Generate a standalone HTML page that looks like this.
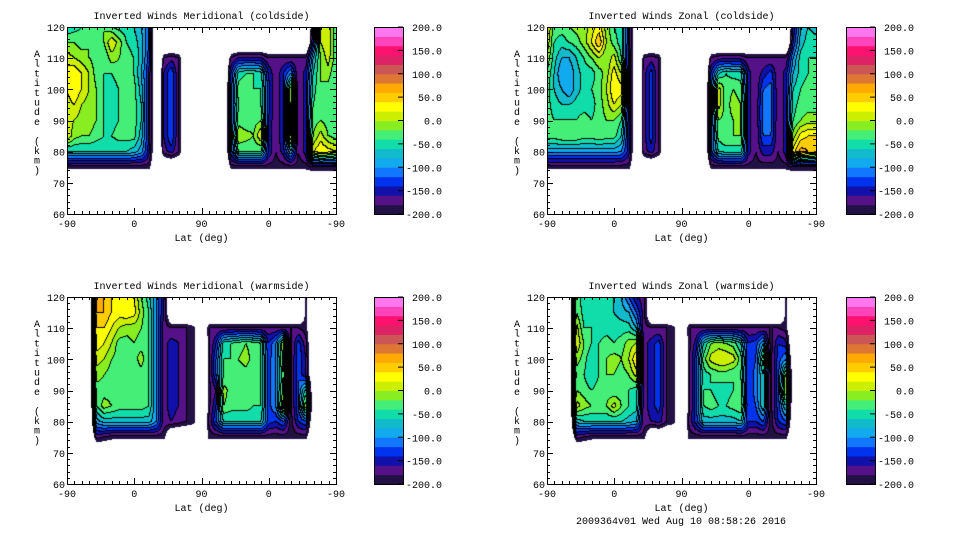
<!DOCTYPE html>
<html><head><meta charset="utf-8"><style>
html,body{margin:0;padding:0;background:#fff;width:960px;height:540px;overflow:hidden;position:relative}
canvas{position:absolute}
svg{position:absolute;left:0;top:0}
text{font-family:"Liberation Mono",monospace;font-size:10px;fill:#000}
</style></head><body>
<svg id="ov" width="960" height="540"></svg>
<script>
const _ = null;
const xTickLabels = ['-90','0','90','0','-90'];
const xTickTrack = [0,90,180,270,360];
const yTicks = [60,70,80,90,100,110,120];
const cbLabels = ['200.0','150.0','100.0','50.0','0.0','-50.0','-100.0','-150.0','-200.0'];
const cbValues = [200,150,100,50,0,-50,-100,-150,-200];
const levelColors = ['#221144','#551188','#1111aa','#0033ee','#1177ff','#11aaee','#11bbcc','#11ddaa','#44ee77','#88ee22','#ccee00','#ffff00','#ffcc00','#ffaa00','#dd7733','#cc5555','#dd2266','#ff1170','#ff44bb','#ff77ee'];
const rowAlts = [120,115,110,105,100,95,90,85,80,75];
const titles = ['Inverted Winds Meridional (coldside)','Inverted Winds Zonal (coldside)','Inverted Winds Meridional (warmside)','Inverted Winds Zonal (warmside)'];
// values in units of 10 m/s; columns = track 0..360 step 10
const merCold = [
[-6,-5,-4,-4,-3,-2,-4,-5,-5,-6,-8,-12,_,_,_,_,_,_,_,_,_,_,_,_,_,_,_,_,_,_,_,_,_,-16,1,2,-3],
[-2,-2,-3,-2,-3,-2,2,-1,-4,-5,-7,-12,_,_,_,_,_,_,_,_,_,_,_,_,_,_,_,_,_,_,_,_,_,-14,0,2,-4],
[1,0,-1,-2,-3,-4,-1,-2,-3,-4,-7,-13,_,-18,-17,-18,_,_,_,_,_,_,-18,-16,-16,-16,-16,-18,-18,-18,-18,-18,-18,-8,-2,1,-3],
[3,4,2,0,-3,-4,-4,-3,-3,-4,-8,-14,_,-16,-12,-18,_,_,_,_,_,_,-14,-5,-4,-4,-5,-14,-18,-14,-10,-18,-15,-6,-2,-1,-4],
[2,4,2,0,-2,-4,-5,-4,-3,-3,-7,-14,_,-16,-12,-18,_,_,_,_,_,_,-13,-3,-2,-4,-4,-13,-18,-14,0,-18,-15,-5,-2,-3,-4],
[1,2,0,-1,-2,-4,-5,-4,-3,-3,-6,-14,_,-16,-12,-18,_,_,_,_,_,_,-13,-4,-4,-4,-4,-13,-18,-14,1,-18,-15,-4,-2,-3,-4],
[1,0,-1,-1,-2,-4,-5,-4,-3,-3,-6,-14,_,-16,-12,-18,_,_,_,_,_,_,-13,-3,-4,-3,-2,-14,-18,-14,1,-18,-15,-3,-2,-3,-4],
[2,-1,-2,-2,-3,-4,-4,-3,-3,-3,-7,-14,_,-16,-12,-18,_,_,_,_,_,_,-13,0,-1,-2,2,-14,-18,-14,1,-18,-15,-2,1,-2,-3],
[-6,-6,-6,-6,-6,-6,-6,-6,-6,-7,-9,-15,_,-17,-15,-18,_,_,_,_,_,_,-13,-4,-4,-4,-4,-14,-18,-15,-8,-18,-15,2,4,3,2],
[-19,-19,-19,-19,-19,-19,-19,-19,-19,-19,-19,-19,_,_,_,_,_,_,_,_,_,_,-19,-19,-19,-19,-19,-19,-19,-19,-19,-19,-19,-18,-18,-18,-18]];
const zonCold = [
[3,-3,-3,-2,-1,-1,1,3,-1,-4,-5,-14,_,_,_,_,_,_,_,_,_,_,_,_,_,_,_,_,_,_,_,_,_,-16,-8,-6,-7],
[2,-4,-5,-4,-3,-1,2,6,0,-3,-5,-14,_,_,_,_,_,_,_,_,_,_,_,_,_,_,_,_,_,_,_,_,_,-14,-7,-5,-5],
[0,-5,-8,-8,-6,-4,-2,0,-2,1,-4,-15,_,-18,-17,-18,_,_,_,_,_,_,-18,-17,-17,-17,-17,-18,-18,-18,-18,-18,-18,-10,-5,-4,-4],
[-2,-6,-10,-10,-7,-5,-5,-3,-1,3,0,-15,_,-17,-13,-18,_,_,_,_,_,_,-14,-6,-4,-5,-5,-15,-18,-15,-13,-18,-15,-8,-5,-4,-4],
[-3,-6,-8,-10,-7,-5,-4,-3,0,4,3,-15,_,-17,-13,-18,_,_,_,_,_,_,-13,1,-3,-2,-3,-15,-18,-12,-11,-18,-15,-6,-4,-3,-4],
[-3,-5,-6,-6,-5,-5,-5,-3,-1,2,0,-15,_,-17,-13,-18,_,_,_,_,_,_,-13,1,-3,-1,-2,-15,-18,-11,-11,-18,-15,-5,-3,-3,-3],
[-3,-4,-4,-4,-4,-3,-4,-3,-2,-2,-4,-15,_,-17,-13,-18,_,_,_,_,_,_,-13,-2,-3,-2,-2,-15,-18,-11,-11,-18,-15,-4,-2,-1,-1],
[-3,-3,-2,-2,-2,-3,-3,-2,-3,-3,-6,-15,_,-17,-13,-18,_,_,_,_,_,_,-13,-3,-2,-2,-2,-15,-18,-12,-12,-18,-15,-1,3,4,4],
[-9,-9,-9,-9,-9,-9,-9,-9,-9,-9,-10,-15,_,-17,-15,-18,_,_,_,_,_,_,-13,-6,-5,-5,-5,-15,-18,-15,-15,-18,-15,3,7,6,5],
[-19,-19,-19,-19,-19,-19,-19,-19,-19,-19,-19,-19,_,_,_,_,_,_,_,_,_,_,-19,-19,-19,-19,-19,-19,-19,-19,-19,-19,-19,-18,-18,-18,-18]];
const merWarm = [
[_,_,_,_,7,6,4,3,3,2,-2,-5,-10,-16,_,_,_,_,_,_,_,_,_,_,_,_,_,_,_,_,_,_,-19,_,_,_,_],
[_,_,_,_,6,6,4,3,4,3,-1,-4,-10,-16,_,_,_,_,_,_,_,_,_,_,_,_,_,_,_,_,_,_,-19,_,_,_,_],
[_,_,_,_,4,4,2,0,-1,-1,-2,-4,-10,-17,-18,-18,-18,-19,_,-18,-18,-18,-18,-18,-18,-18,-18,-18,-18,-18,-18,-18,-19,_,_,_,_],
[_,_,_,_,3,2,0,-3,-3,-2,-3,-4,-10,-17,-15,-16,-18,-19,_,-19,-14,-5,-4,-3,-2,-3,-4,-14,-10,0,-19,-13,-17,_,_,_,_],
[_,_,_,_,1,0,-2,-3,-4,-3,-1,-4,-10,-17,-15,-16,-18,-19,_,-19,-12,-4,-4,-2,-1,-3,-4,-13,-10,-1,-19,-12,-16,_,_,_,_],
[_,_,_,_,-1,-2,-3,-4,-4,-3,-3,-4,-10,-17,-15,-16,-18,-19,_,-19,-12,-4,-4,-3,-3,-4,-4,-13,-10,-2,-19,-12,-16,_,_,_,_],
[_,_,_,_,-3,-3,-3,-4,-4,-3,-3,-4,-10,-17,-15,-16,-18,-19,_,-19,-16,-1,-3,-3,-4,-4,-4,-13,-10,-1,-19,-12,-5,_,_,_,_],
[_,_,_,_,-4,-1,-2,-3,-3,-3,-3,-4,-10,-17,-15,-16,-18,-19,_,-19,-14,-2,-3,-3,-3,-4,-4,-13,-10,1,-19,-12,0,_,_,_,_],
[_,_,_,_,-9,-7,-7,-7,-7,-7,-7,-7,-10,-17,-16,-17,-18,-19,_,-18,-12,-6,-6,-6,-6,-6,-6,-13,-14,-12,-19,-14,-12,_,_,_,_],
[_,_,_,_,-17,-18,-19,-19,-19,-19,-19,-19,-19,-19,_,_,_,_,_,-19,-19,-19,-19,-19,-19,-19,-19,-19,-19,-19,-19,-19,-19,_,_,_,_]];
const zonWarm = [
[_,_,_,_,-3,-5,-4,-5,-5,-6,-8,-12,-16,-17,_,_,_,_,_,_,_,_,_,_,_,_,_,_,_,_,_,_,-19,_,_,_,_],
[_,_,_,_,-2,-5,-4,-6,-6,-6,-7,-8,-12,-17,_,_,_,_,_,_,_,_,_,_,_,_,_,_,_,_,_,_,-19,_,_,_,_],
[_,_,_,_,1,-4,-4,-5,-5,-5,-5,-5,-8,-17,-18,-18,-18,-19,_,-18,-18,-18,-18,-18,-18,-18,-18,-18,-18,-18,-18,-18,-19,_,_,_,_],
[_,_,_,_,2,-2,-4,-4,-3,-4,-3,-1,0,-17,-15,-13,-18,-19,_,-19,-15,-6,-2,-1,-2,-3,-6,-14,-13,-8,-19,-14,-15,_,_,_,_],
[_,_,_,_,-1,-3,-6,-4,-2,-1,-2,0,4,-17,-15,-13,-18,-19,_,-19,-13,-3,1,2,2,1,-3,-14,-12,-2,-19,-13,-10,_,_,_,_],
[_,_,_,_,-3,-4,-6,-4,-2,-2,-3,-2,1,-17,-15,-13,-18,-19,_,-19,-13,-5,-4,-3,-3,-4,-4,-14,-11,-6,-19,-13,-1,_,_,_,_],
[_,_,_,_,-2,-3,-4,-3,-3,-4,-3,-4,-5,-17,-15,-13,-18,-19,_,-19,-13,-4,-4,-5,-5,-4,-3,-14,-11,-6,-19,-13,1,_,_,_,_],
[_,_,_,_,1,-1,-2,-2,-2,1,-2,-4,-5,-17,-15,-13,-18,-19,_,-19,-13,-4,-3,-4,-4,-3,-2,-14,-12,-6,-19,-13,-6,_,_,_,_],
[_,_,_,_,-7,-6,-6,-6,-6,-6,-6,-7,-8,-17,-16,-15,-18,-19,_,-18,-13,-7,-7,-7,-7,-7,-6,-14,-14,-12,-19,-14,-12,_,_,_,_],
[_,_,_,_,-17,-18,-19,-19,-19,-19,-19,-19,-19,-19,_,_,_,_,_,-19,-19,-19,-19,-19,-19,-19,-19,-19,-19,-19,-19,-19,-19,_,_,_,_]];
const panelGrids = [merCold, zonCold, merWarm, zonWarm];

const NS='http://www.w3.org/2000/svg';
const ov=document.getElementById('ov');
const panels=[{x:67,y:27,cb:374},{x:547,y:27,cb:846},{x:67,y:297,cb:374},{x:547,y:297,cb:846}];
const PW=269, PH=187, CBW=29;
const OUTSIDE=-26;
function xs(p,t){return p.x+t/360*PW;}
function ys(p,a){return p.y+PH-(a-60)/60*PH;}
function add(tag,attrs,parent){const e=document.createElementNS(NS,tag);for(const k in attrs)e.setAttribute(k,attrs[k]);(parent||ov).appendChild(e);return e;}
function levelOf(v){let l=Math.floor((v*10+200)/20);return Math.max(0,Math.min(19,l));}
function hex(c){return [parseInt(c.substr(1,2),16),parseInt(c.substr(3,2),16),parseInt(c.substr(5,2),16)];}
const rgb=levelColors.map(hex);
function node(g,r,c){ if(r<0||r>9) return OUTSIDE; c=Math.max(0,Math.min(36,c)); const v=g[r][c]; return v==null?OUTSIDE:v; }
function sample(g,t,alt){
  const ci=t/10, ri=(120-alt)/5;
  const c0=Math.floor(ci), r0=Math.floor(ri);
  const fx=ci-c0, fy=ri-r0;
  return node(g,r0,c0)*(1-fx)*(1-fy)+node(g,r0,c0+1)*fx*(1-fy)+node(g,r0+1,c0)*(1-fx)*fy+node(g,r0+1,c0+1)*fx*fy;
}
panels.forEach((p,pi)=>{
  const g=panelGrids[pi];
  const cv=document.createElement('canvas');
  cv.width=PW;cv.height=PH;cv.style.left=p.x+'px';cv.style.top=p.y+'px';
  
  
  document.body.insertBefore(cv,ov);
  const ctx=cv.getContext('2d');const img=ctx.createImageData(PW,PH);
  const lv=new Int8Array(PW*PH).fill(-1);
  for(let y=0;y<PH;y++)for(let x=0;x<PW;x++){
    const t=(x+0.5)/PW*360, a=120-(y+0.5)/PH*60;
    const v=sample(g,t,a); if(v>=-20) lv[y*PW+x]=levelOf(v);
  }
  for(let y=0;y<PH;y++)for(let x=0;x<PW;x++){
    const i=y*PW+x,l=lv[i];let c=[255,255,255];
    if(l>=0){c=rgb[l];
      const r=x+1<PW?lv[i+1]:-1, d=y+1<PH?lv[i+PW]:-1;
      if((r>=0&&r!==l)||(d>=0&&d!==l)) c=[0,0,0];}
    img.data[i*4]=c[0];img.data[i*4+1]=c[1];img.data[i*4+2]=c[2];img.data[i*4+3]=255;
  }
  ctx.putImageData(img,0,0);
  const fr=add('rect',{x:p.x+0.5,y:p.y+0.5,width:PW,height:PH,fill:'none',stroke:'#000','stroke-width':1});
  
  
  const tt=add('text',{x:p.x+PW/2,y:p.y-8,'text-anchor':'middle'});tt.textContent=titles[pi];
  
  
  for(let a=60;a<=120;a+=2){const yy=Math.round(ys(p,a))+0.5;const len=(a%10===0)?6:3;
    add('line',{x1:p.x,x2:p.x+len,y1:yy,y2:yy,stroke:'#000'});add('line',{x1:p.x+PW-len,x2:p.x+PW,y1:yy,y2:yy,stroke:'#000'});}
  yTicks.forEach(a=>{const e=add('text',{x:p.x-2,y:ys(p,a)+4,'text-anchor':'end'});e.textContent=a;
    
    });
  for(let t=0;t<=360;t+=10){const xx=Math.round(xs(p,t))+0.5;const len=(t%90===0)?6:3;
    add('line',{x1:xx,x2:xx,y1:p.y+PH-len,y2:p.y+PH,stroke:'#000'});add('line',{x1:xx,x2:xx,y1:p.y,y2:p.y+len,stroke:'#000'});}
  xTickTrack.forEach((t,k)=>{const e=add('text',{x:xs(p,t),y:p.y+PH+13,'text-anchor':'middle'});e.textContent=xTickLabels[k];
    
    });
  const xl=add('text',{x:p.x+PW/2,y:p.y+PH+27,'text-anchor':'middle'});xl.textContent='Lat (deg)';
  
  
  const yl=add('text',{x:p.x-30,y:p.y+30,'text-anchor':'middle'});
  
  
  'Altitude (km)'.split('').forEach((ch,k)=>{const s=add('tspan',{x:p.x-30,y:p.y+30+k*9.7},yl);s.textContent=ch;});
  const cbg=add('g',{});
  
  
  levelColors.forEach((c,k)=>{const y0=p.y+PH-(k+1)*PH/20;
    add('rect',{x:p.cb,y:y0,width:CBW,height:PH/20+0.5,fill:c},cbg);});
  add('rect',{x:p.cb+0.5,y:p.y+0.5,width:CBW,height:PH,fill:'none',stroke:'#000'},cbg);
  cbValues.forEach((v,k)=>{const yy=p.y+PH-(v+200)/400*PH;
    add('line',{x1:p.cb+CBW-5,x2:p.cb+CBW,y1:yy,y2:yy,stroke:'#000'},cbg);
    const e=add('text',{x:p.cb+68,y:yy+4,'text-anchor':'end'},cbg);e.textContent=cbLabels[k];
    
    });
});
const ft=add('text',{x:681,y:524,'text-anchor':'middle'});ft.textContent='2009364v01 Wed Aug 10 08:58:26 2016';


</script>
</body></html>
